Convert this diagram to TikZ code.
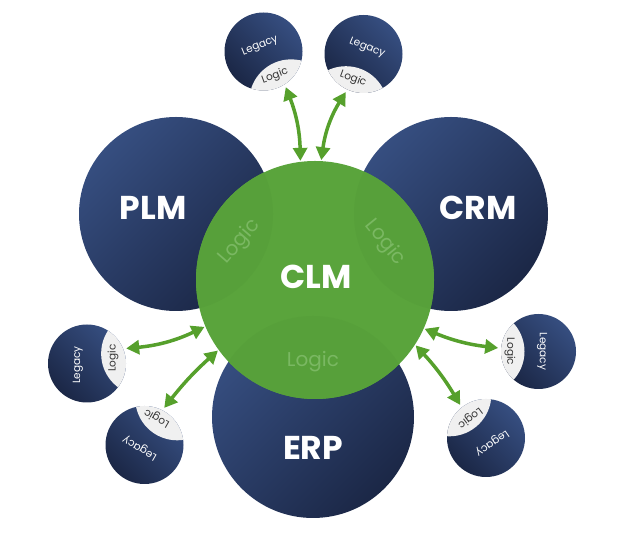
\documentclass[tikz,border=0pt]{standalone}
\usepackage{fontspec}
\setmainfont{Poppins}
\usetikzlibrary{positioning, arrows.meta, calc}

\definecolor{navylight}{RGB}{54,78,128}
\definecolor{navydark}{RGB}{27,39,70}
\definecolor{clmgreen}{RGB}{90,164,60}
\definecolor{lensgreen}{RGB}{87,160,58}
\definecolor{arrowgreen}{RGB}{86,160,44}
\definecolor{logicgreen}{RGB}{122,184,98}
\definecolor{capgrey}{RGB}{240,240,240}

\begin{document}
\begin{tikzpicture}[x=1pt, y=1pt,
    bigcircle/.style={circle, inner sep=0pt, minimum size=#1, top color=navylight, bottom color=navydark, shading angle=45},
    legcircle/.style={circle, inner sep=0pt, minimum size=78pt, outer sep=3pt, top color=navylight, bottom color=navydark, shading angle=-45},
    clmcircle/.style={circle, inner sep=0pt, minimum size=238pt, outer sep=1pt, fill=clmgreen},
    biglabel/.style={text=white, font=\fontsize{33}{33}\selectfont\bfseries},
    leglabel/.style={text=white, font=\fontsize{10.5}{10.5}\selectfont},
    caplabel/.style={text=black!80, font=\fontsize{10.5}{10.5}\selectfont},
    faintlabel/.style={text=logicgreen, font=\fontsize{20}{20}\selectfont},
    link/.style={arrowgreen, line width=3.5pt, {Triangle[length=13pt,width=14pt]}-{Triangle[length=13pt,width=14pt]}}
]
\useasboundingbox (0,0) rectangle (624,540);

% Systeme
\node[bigcircle=194pt] (plm) at (176,326) {};
\node[bigcircle=194pt] (crm) at (451,326) {};
\node[bigcircle=202pt] (erp) at (313,123) {};
\node[clmcircle] (clm) at (315,260) {};

% Ueberlappungen
\begin{scope}
    \clip (clm.center) circle (119);
    \fill[lensgreen] (plm.center) circle (97);
    \fill[lensgreen] (crm.center) circle (97);
    \fill[lensgreen] (erp.center) circle (101);
\end{scope}

% Legacy-Kreise
\node[legcircle] (legTL) at (263.5,488.5) {};
\node[legcircle] (legTR) at (363.5,486) {};
\node[legcircle] (legL) at (87,176.5) {};
\node[legcircle] (legBL) at (144.5,95) {};
\node[legcircle, minimum size=75pt] (legR) at (538.5,188.5) {};
\node[legcircle] (legBR) at (486,102) {};

% Logic-Kappen
\begin{scope}
    \clip (legTL.center) circle (39);
    \fill[capgrey] ($(legTL.center)+(-61:57)$) circle (42);
\end{scope}
\begin{scope}
    \clip (legTR.center) circle (39);
    \fill[capgrey] ($(legTR.center)+(-108:57)$) circle (42);
\end{scope}
\begin{scope}
    \clip (legL.center) circle (39);
    \fill[capgrey] ($(legL.center)+(10:57)$) circle (42);
\end{scope}
\begin{scope}
    \clip (legBL.center) circle (39);
    \fill[capgrey] ($(legBL.center)+(55:57)$) circle (42);
\end{scope}
\begin{scope}
    \clip (legR.center) circle (37.5);
    \fill[capgrey] ($(legR.center)+(180:56)$) circle (42);
\end{scope}
\begin{scope}
    \clip (legBR.center) circle (39);
    \fill[capgrey] ($(legBR.center)+(130:57)$) circle (42);
\end{scope}

% Beschriftungen
\node[biglabel] (plmtext) at (153,332) {PLM};
\node[biglabel] (crmtext) at (478,332) {CRM};
\node[biglabel] (erptext) at (313,92) {ERP};
\node[biglabel] (clmtext) at (316,263) {CLM};
\node[faintlabel, rotate=49] (logicplm) at (240,298) {Logic};
\node[faintlabel, rotate=-51] (logiccrm) at (385,297) {Logic};
\node[faintlabel] (logicerp) at (313,178) {Logic};

\node[leglabel, rotate=22] (legacyTL) at ($(legTL.center)+(-3.5,5.5)$) {Legacy};
\node[caplabel, rotate=20] (logicTL) at ($(legTL.center)+(11.5,-24.5)$) {Logic};
\node[leglabel, rotate=-22] (legacyTR) at ($(legTR.center)+(3.5,6)$) {Legacy};
\node[caplabel, rotate=-20] (logicTR) at ($(legTR.center)+(-10.5,-25)$) {Logic};
\node[leglabel, rotate=90] (legacyL) at ($(legL.center)+(-9,-1.5)$) {Legacy};
\node[caplabel, rotate=90] (logicL) at ($(legL.center)+(26,5.5)$) {Logic};
\node[leglabel, rotate=150] (legacyBL) at ($(legBL.center)+(-4.5,-3)$) {Legacy};
\node[caplabel, rotate=150] (logicBL) at ($(legBL.center)+(12.5,27)$) {Logic};
\node[leglabel, rotate=-90] (legacyR) at ($(legR.center)+(3.5,0)$) {Legacy};
\node[caplabel, rotate=-90] (logicR) at ($(legR.center)+(-28.5,0)$) {Logic};
\node[leglabel, rotate=-145] (legacyBR) at ($(legBR.center)+(6,-5)$) {Legacy};
\node[caplabel, rotate=-143] (logicBR) at ($(legBR.center)+(-16,20)$) {Logic};

% Verbindungen
\draw[link] (legTL.-58) to[bend left=10] (clm.97);
\draw[link] (legTR.-115) to[bend right=12] (clm.87);
\draw[link] (legL.21) to[bend right=10] (clm.-157);
\draw[link] (legBL.62) to[bend left=5] (clm.-144);
\draw[link] (legR.175) to[bend left=8] (clm.-24);
\draw[link] (legBR.128) to[bend right=6] (clm.-33);

\end{tikzpicture}
\end{document}
